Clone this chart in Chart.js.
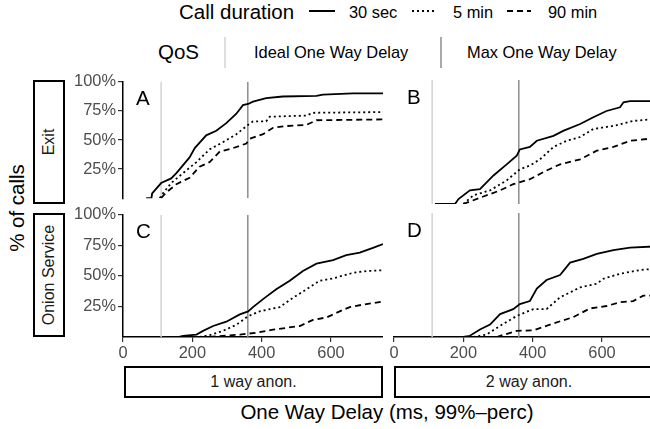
<!DOCTYPE html>
<html>
<head>
<meta charset="utf-8">
<script src="https://cdn.jsdelivr.net/npm/chart.js@4.4.0/dist/chart.umd.min.js"></script>
<style>
  html, body { margin: 0; padding: 0; width: 650px; height: 429px; overflow: hidden; background: #fff; }
  body { position: relative; font-family: "Liberation Sans", Arial, sans-serif; color: #000; }
  .txt { position: absolute; white-space: nowrap; line-height: 1; }
  canvas { position: absolute; }
  .strip { position: absolute; box-sizing: border-box; border: 2px solid #000; display: flex;
           align-items: center; justify-content: center; font-size: 16px; color: #1a1a1a; background: #fff; }
  .strip.v span { transform: rotate(-90deg); white-space: nowrap; }
  .key { position: absolute; }
</style>
</head>
<body>

<!-- legend: call duration -->
<div class="txt" style="left:179px; top:2px; font-size:20.5px;">Call duration</div>
<svg class="key" style="left:309px; top:1px;" width="26" height="20"><line x1="0" y1="10" x2="26" y2="10" stroke="#000" stroke-width="2"/></svg>
<div class="txt" style="left:349px; top:4px; font-size:16.4px;">30 sec</div>
<svg class="key" style="left:412px; top:1px;" width="22" height="20"><line x1="0" y1="10" x2="22" y2="10" stroke="#000" stroke-width="2" stroke-dasharray="2,3"/></svg>
<div class="txt" style="left:453px; top:4px; font-size:16.4px;">5 min</div>
<svg class="key" style="left:507px; top:1px;" width="24" height="20"><line x1="0" y1="10" x2="24" y2="10" stroke="#000" stroke-width="2" stroke-dasharray="6,4"/></svg>
<div class="txt" style="left:548px; top:4px; font-size:16.4px;">90 min</div>

<!-- legend: QoS -->
<div class="txt" style="left:158px; top:42px; font-size:20.5px;">QoS</div>
<svg class="key" style="left:215px; top:37px;" width="20" height="31"><line x1="10" y1="0" x2="10" y2="31" stroke="#d3d3d3" stroke-width="1.5"/></svg>
<div class="txt" style="left:254px; top:44px; font-size:16.4px;">Ideal One Way Delay</div>
<svg class="key" style="left:431px; top:37px;" width="20" height="31"><line x1="10" y1="0" x2="10" y2="31" stroke="#8c8c8c" stroke-width="1.5"/></svg>
<div class="txt" style="left:467px; top:44px; font-size:16.4px;">Max One Way Delay</div>

<!-- y title -->
<div class="txt" style="left:17px; top:208px; font-size:20.5px; transform: translate(-50%,-50%) rotate(-90deg);">% of calls</div>

<!-- row strips -->
<div class="strip v" style="left:33px; top:80px; width:32px; height:124px;"><span>Exit</span></div>
<div class="strip v" style="left:33px; top:213px; width:32px; height:124px;"><span>Onion Service</span></div>

<!-- column strips (bottom) -->
<div class="strip" style="left:124px; top:366px; width:259px; height:32px;">1 way anon.</div>
<div class="strip" style="left:394px; top:366px; width:270px; height:32px;">2 way anon.</div>

<!-- x title -->
<div class="txt" style="left:387px; top:412px; font-size:20.5px; transform: translate(-50%,-50%);">One Way Delay (ms, 99%–perc)</div>

<canvas id="panelA" width="333" height="140" style="left:50px; top:70px;"></canvas>
<canvas id="panelB" width="270" height="140" style="left:384px; top:70px;"></canvas>
<canvas id="panelC" width="333" height="160" style="left:50px; top:203px;"></canvas>
<canvas id="panelD" width="270" height="160" style="left:384px; top:203px;"></canvas>

<script>
// axis breaks
const xTicks = [0, 200, 400, 600];
const yBreaks = [25, 50, 75, 100];
const xMax = 750;

// QoS reference lines (ms)
const qosIdeal = 110;
const qosMax = 360;

// ECDF curves, [ms, % of calls]
// A: Exit, 1 way anon.
const exit1way30s = [[67,0],[82,0],[84,4],[110,13],[139,17],[154,21.5],[192,35],[207,43],[240,54],[269,58],[298,64.5],[327,72.6],[346,80],[361,81],[375,83],[413,86],[461,87.4],[558,88],[577,89],[663,90],[750,90]];
const exit1way5m = [[106,0],[115,4],[139,13],[173,21.5],[212,31],[250,42],[288,48],[327,55],[361,63],[375,66],[413,66],[423,70],[529,71],[548,73.4],[750,74]];
const exit1way90m = [[110,0],[125,5],[154,12],[192,17.5],[221,27],[250,31],[279,40],[317,43],[356,47],[365,51],[404,55],[433,60.5],[471,62],[529,63],[558,67],[750,67.7]];

// B: Exit, 2 way anon.
const exit2way30s = [[118,0],[176,0],[186,4],[219,11],[248,12],[287,23],[325,32],[354,39],[363,44],[392,46],[412,51],[460,55],[488,59],[537,64.5],[575,70],[613,75],[652,78],[662,82],[681,83],[750,83]];
const exit2way5m = [[200,0],[229,7],[277,11],[325,19],[363,28],[392,31],[421,36],[460,46],[498,51],[537,54],[575,60.5],[633,63],[690,67],[750,68.5]];
const exit2way90m = [[200,0],[248,5],[306,11],[344,16],[392,20],[440,27],[479,32],[537,36],[585,43],[633,46],[681,51],[750,53]];

// C: Onion Service, 1 way anon.
const onion1way30s = [[159,0],[173,1],[212,2],[231,5],[260,9],[298,12.5],[337,18.5],[361,21],[375,24.5],[404,31],[442,39],[481,46],[519,54],[558,60],[606,63],[644,67],[683,69],[721,73],[750,76]];
const onion1way5m = [[221,0],[250,1.5],[288,5],[327,10],[361,17],[394,21],[452,24.5],[490,32],[529,39],[567,46],[606,48],[663,52.5],[702,54],[750,54.6]];
const onion1way90m = [[250,0],[337,2],[385,3.5],[433,6],[510,9],[548,14],[587,16],[625,21],[654,24.5],[702,27],[750,29]];

// D: Onion Service, 2 way anon.
const onion2way30s = [[200,0],[219,1],[248,6],[277,10],[306,18.5],[344,22.5],[363,26.6],[392,29],[412,39],[440,46],[479,50],[508,60],[546,63],[585,67],[633,70],[681,72],[750,73]];
const onion2way5m = [[229,0],[267,2],[306,9],[354,17],[402,22.5],[440,22.5],[479,32],[537,40],[585,43],[604,47],[652,51],[710,54],[750,55]];
const onion2way90m = [[296,0],[354,5],[402,5.4],[460,11],[517,16],[565,23],[613,25],[652,28],[690,29],[719,33.4],[750,33.4]];

const durationDash = [[], [2, 3], [6, 4]];

// letter in the corner of each panel
const panelLetter = {
    id: 'panelLetter',
    afterDraw(chart, args, opts) {
        const { ctx, chartArea } = chart;
        ctx.save();
        ctx.font = '20.5px "Liberation Sans", Arial, sans-serif';
        ctx.fillStyle = '#000';
        ctx.textBaseline = 'middle';
        ctx.fillText(opts.text, chartArea.left + 13, chartArea.top + 18);
        ctx.restore();
    }
};

function vline(x, color) {
    return {
        data: [{ x: x, y: 0 }, { x: x, y: 100 }],
        borderColor: color,
        borderWidth: 1.5,
        pointRadius: 0,
        order: 2
    };
}

function makePanel(id, series, letter, showX, showY) {
    const pad = {
        left: showY ? 0 : 10,
        right: 0,
        top: 10,
        bottom: showX ? 0 : 6
    };
    new Chart(document.getElementById(id), {
        type: 'line',
        data: {
            datasets: [vline(qosIdeal, '#d3d3d3'), vline(qosMax, '#8c8c8c')].concat(
                series.map((s, i) => ({
                    data: s.map(p => ({ x: p[0], y: p[1] })),
                    borderColor: '#000',
                    borderWidth: 1.8,
                    borderDash: durationDash[i],
                    pointRadius: 0,
                    tension: 0,
                    fill: false,
                    order: 1
                })))
        },
        options: {
            responsive: false,
            animation: false,
            layout: { padding: pad, autoPadding: false },
            plugins: {
                legend: { display: false },
                tooltip: { enabled: false },
                panelLetter: { text: letter }
            },
            scales: {
                x: {
                    type: 'linear',
                    min: 0,
                    max: xMax,
                    display: showX,
                    afterBuildTicks: s => { s.ticks = xTicks.map(v => ({ value: v })); },
                    afterFit: s => { s.height = showX ? 26 : 0; },
                    ticks: { color: '#4d4d4d', font: { size: 16.4, family: '"Liberation Sans", Arial, sans-serif' }, padding: 2, maxRotation: 0 },
                    grid: { drawOnChartArea: false, drawTicks: true, tickLength: 5, color: '#333', lineWidth: 1.2 },
                    border: { display: true, color: '#000', width: 1.5 }
                },
                y: {
                    min: 0,
                    max: 100,
                    display: showY,
                    afterBuildTicks: s => { s.ticks = yBreaks.map(v => ({ value: v })); },
                    afterFit: s => { s.width = showY ? 73 : 0; },
                    ticks: { color: '#4d4d4d', font: { size: 16.4, family: '"Liberation Sans", Arial, sans-serif' }, padding: 2, callback: v => v + '%' },
                    grid: { drawOnChartArea: false, drawTicks: true, tickLength: 5, color: '#333', lineWidth: 1.2 },
                    border: { display: true, color: '#000', width: 1.5 }
                }
            }
        },
        plugins: [panelLetter]
    });
}

makePanel('panelA', [exit1way30s, exit1way5m, exit1way90m], 'A', false, true);
makePanel('panelB', [exit2way30s, exit2way5m, exit2way90m], 'B', false, false);
makePanel('panelC', [onion1way30s, onion1way5m, onion1way90m], 'C', true, true);
makePanel('panelD', [onion2way30s, onion2way5m, onion2way90m], 'D', true, false);
</script>
</body>
</html>
